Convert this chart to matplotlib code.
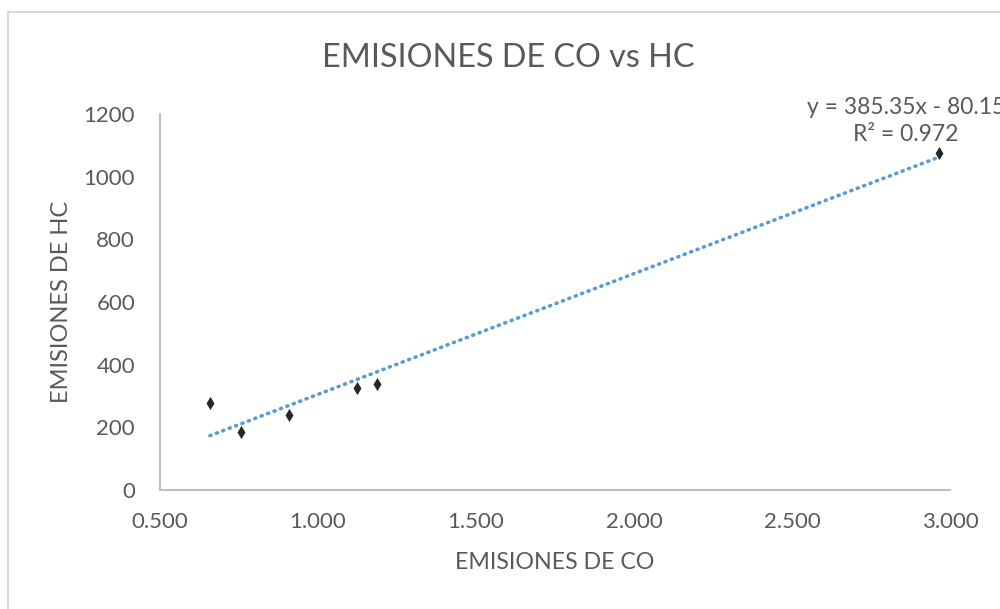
import matplotlib
matplotlib.use("Agg")
import matplotlib.pyplot as plt
from matplotlib.lines import Line2D
import numpy as np

plt.rcParams['font.family'] = ['Lato', 'DejaVu Sans']

# CO vs HC emission measurements
co_emissions = [0.658, 0.756, 0.908, 1.123, 1.187, 2.965]
hc_emissions = [278, 185, 239, 326, 338, 1076]

# Linear trend line
slope = 385.35
intercept = -80.15
r_squared = 0.972

x_ticks = [0.5, 1.0, 1.5, 2.0, 2.5, 3.0]
y_ticks = [0, 200, 400, 600, 800, 1000, 1200]

text_gray = '#595959'
axis_gray = '#bfbfbf'

fig = plt.figure(figsize=(10, 6.09), dpi=100)
ax = fig.add_axes([0.16, 0.1954, 0.79, 0.6174])

# chart area border (left and top edges)
fig.add_artist(Line2D([0.008, 0.008], [0.0, 1 - 12 / 609], transform=fig.transFigure,
                      color='#d9d9d9', lw=1.5))
fig.add_artist(Line2D([0.008, 1.0], [1 - 12 / 609, 1 - 12 / 609], transform=fig.transFigure,
                      color='#d9d9d9', lw=1.5))

xs = np.array([min(co_emissions), max(co_emissions)])
ax.plot(xs, slope * xs + intercept, linestyle=(0, (0.3, 1.6)), dash_capstyle='round',
        color='#5b9bd5', lw=2.6, zorder=2)
ax.scatter(co_emissions, hc_emissions, marker='d', s=45, color='#262626', zorder=3,
           linewidths=0)

ax.set_xlim(0.5, 3.0)
ax.set_ylim(0, 1200)
ax.set_xticks(x_ticks)
ax.set_xticklabels([f'{v:.3f}' for v in x_ticks])
ax.set_yticks(y_ticks)
ax.set_yticklabels([str(v) for v in y_ticks])

for side in ('top', 'right'):
    ax.spines[side].set_visible(False)
for side in ('left', 'bottom'):
    ax.spines[side].set_color(axis_gray)
    ax.spines[side].set_linewidth(1.5)
ax.tick_params(axis='both', length=0, labelsize=16, labelcolor=text_gray)
ax.tick_params(axis='x', pad=16)
ax.tick_params(axis='y', pad=18)

ax.set_xlabel('EMISIONES DE CO', fontsize=16.7, color=text_gray, labelpad=14)
ax.set_ylabel('EMISIONES DE HC', fontsize=17, color=text_gray, labelpad=8)
fig.text(0.508, 1 - 58 / 609, 'EMISIONES DE CO vs HC', fontsize=23.3, color=text_gray,
         ha='center', va='center')

ax.text(2.547, 1178, f'y = {slope:.2f}x - {-intercept:.2f}\nR² = {r_squared:.3f}',
        fontsize=16.5, color=text_gray, ha='left', va='center', multialignment='center',
        linespacing=1.35, clip_on=False)

fig.savefig('out.png', dpi=100, facecolor='white')
